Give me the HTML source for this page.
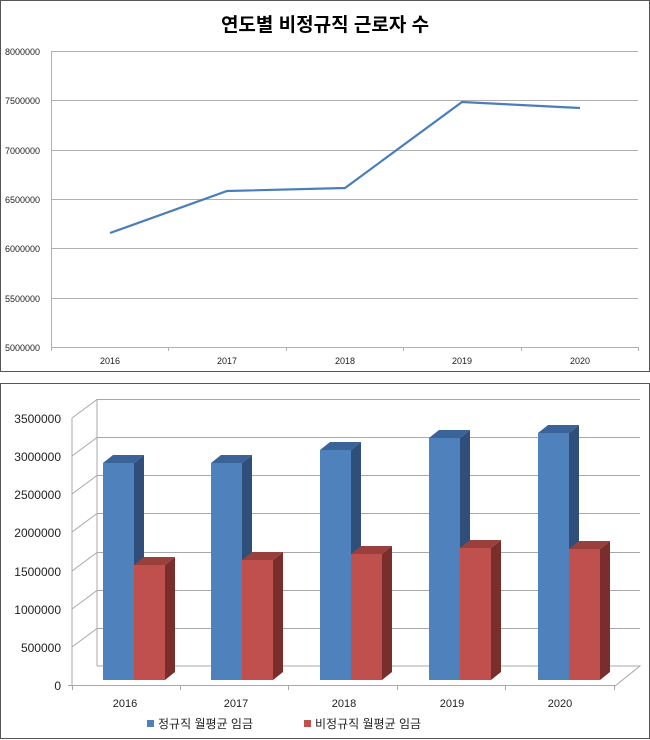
<!DOCTYPE html>
<html><head><meta charset="utf-8"><style>
body{margin:0;background:#fff;width:650px;height:740px;overflow:hidden}
svg{display:block;font-family:"Liberation Sans","Noto Sans CJK KR",sans-serif}
</style></head><body>
<svg width="650" height="740" viewBox="0 0 650 740">
<rect x="0.5" y="0.5" width="649" height="371" fill="#fff" stroke="#555"/>
<text x="325" y="31" text-anchor="middle" font-size="19" font-weight="bold" fill="#000">연도별 비정규직 근로자 수</text>
<g stroke="#b0b0b0" stroke-width="1">
<line x1="51" y1="51.5" x2="638" y2="51.5"/><line x1="51" y1="100.5" x2="638" y2="100.5"/>
<line x1="51" y1="150.5" x2="638" y2="150.5"/><line x1="51" y1="199.5" x2="638" y2="199.5"/>
<line x1="51" y1="248.5" x2="638" y2="248.5"/><line x1="51" y1="298.5" x2="638" y2="298.5"/>
<line x1="51" y1="347.5" x2="638" y2="347.5"/>
<line x1="51.5" y1="51" x2="51.5" y2="351"/>
<line x1="168.5" y1="347" x2="168.5" y2="351"/><line x1="286.5" y1="347" x2="286.5" y2="351"/>
<line x1="403.5" y1="347" x2="403.5" y2="351"/><line x1="521.5" y1="347" x2="521.5" y2="351"/>
<line x1="638.5" y1="347" x2="638.5" y2="351"/>
</g>
<g font-size="9" fill="#222">
<text x="5" y="55">8000000</text><text x="5" y="104">7500000</text><text x="5" y="154">7000000</text>
<text x="5" y="203">6500000</text><text x="5" y="252">6000000</text><text x="5" y="302">5500000</text>
<text x="5" y="351">5000000</text>
</g>
<g font-size="9" fill="#222" text-anchor="middle">
<text x="110" y="364">2016</text><text x="227" y="364">2017</text><text x="345" y="364">2018</text>
<text x="462" y="364">2019</text><text x="580" y="364">2020</text>
</g>
<polyline points="110,233 227,191 345,188 462,102 580,108" fill="none" stroke="#4a7ebb" stroke-width="2.2"/>

<rect x="0.5" y="383.5" width="649" height="355" fill="#fff" stroke="#555"/>
<g stroke="#a8a8a8" stroke-width="1" fill="none">
<line x1="97" y1="399" x2="97" y2="666"/>
<line x1="72" y1="418" x2="72" y2="685"/>
<line x1="72" y1="685.5" x2="615" y2="685.5"/>
<polyline points="615,686 640,666 97,666"/>
<polyline points="72,418 97,399.5 640,399.5"/>
<polyline points="72,494 97,475.5 640,475.5"/>
<polyline points="72,571 97,552.5 640,552.5"/>
<polyline points="72,647 97,628.5 640,628.5"/>
<polyline points="72,456 97,437.5 640,437.5"/>
<polyline points="72,532 97,513.5 640,513.5"/>
<polyline points="72,609 97,590.5 640,590.5"/>
<line x1="68" y1="685.5" x2="72" y2="685.5"/>
<line x1="180.5" y1="685" x2="180.5" y2="690"/><line x1="288.5" y1="685" x2="288.5" y2="690"/>
<line x1="397.5" y1="685" x2="397.5" y2="690"/><line x1="505.5" y1="685" x2="505.5" y2="690"/>
<line x1="614.5" y1="685" x2="614.5" y2="690"/><line x1="72.5" y1="685" x2="72.5" y2="690"/>
</g>
<g font-size="12" fill="#222" text-anchor="end">
<text x="61" y="423">3500000</text><text x="61" y="461">3000000</text><text x="61" y="499">2500000</text>
<text x="61" y="537">2000000</text><text x="61" y="576">1500000</text><text x="61" y="614">1000000</text>
<text x="61" y="652">500000</text><text x="61" y="690">0</text>
</g>
<g>
<!-- 2016 -->
<polygon points="134,463 144,455 144,672 134,680" fill="#2f4f7a"/><polygon points="103,463 113,455 144,455 134,463" fill="#3a639a"/><rect x="103" y="463" width="31" height="217" fill="#4f81bd"/>
<polygon points="165,565 175,557 175,672 165,680" fill="#7a2e2c"/><polygon points="134,565 144,557 175,557 165,565" fill="#99403d"/><rect x="134" y="565" width="31" height="115" fill="#c0504d"/>
<!-- 2017 -->
<polygon points="242,463 252,455 252,672 242,680" fill="#2f4f7a"/><polygon points="211,463 221,455 252,455 242,463" fill="#3a639a"/><rect x="211" y="463" width="31" height="217" fill="#4f81bd"/>
<polygon points="273,560 283,552 283,672 273,680" fill="#7a2e2c"/><polygon points="242,560 252,552 283,552 273,560" fill="#99403d"/><rect x="242" y="560" width="31" height="120" fill="#c0504d"/>
<!-- 2018 -->
<polygon points="351,450 361,442 361,672 351,680" fill="#2f4f7a"/><polygon points="320,450 330,442 361,442 351,450" fill="#3a639a"/><rect x="320" y="450" width="31" height="230" fill="#4f81bd"/>
<polygon points="382,554 392,546 392,672 382,680" fill="#7a2e2c"/><polygon points="351,554 361,546 392,546 382,554" fill="#99403d"/><rect x="351" y="554" width="31" height="126" fill="#c0504d"/>
<!-- 2019 -->
<polygon points="460,438 470,430 470,672 460,680" fill="#2f4f7a"/><polygon points="429,438 439,430 470,430 460,438" fill="#3a639a"/><rect x="429" y="438" width="31" height="242" fill="#4f81bd"/>
<polygon points="491,548 501,540 501,672 491,680" fill="#7a2e2c"/><polygon points="460,548 470,540 501,540 491,548" fill="#99403d"/><rect x="460" y="548" width="31" height="132" fill="#c0504d"/>
<!-- 2020 -->
<polygon points="569,433 579,425 579,672 569,680" fill="#2f4f7a"/><polygon points="538,433 548,425 579,425 569,433" fill="#3a639a"/><rect x="538" y="433" width="31" height="247" fill="#4f81bd"/>
<polygon points="600,549 610,541 610,672 600,680" fill="#7a2e2c"/><polygon points="569,549 579,541 610,541 600,549" fill="#99403d"/><rect x="569" y="549" width="31" height="131" fill="#c0504d"/>
</g>
<g font-size="11" fill="#222" text-anchor="middle">
<text x="125" y="707">2016</text><text x="236" y="707">2017</text><text x="344" y="707">2018</text>
<text x="452" y="707">2019</text><text x="560" y="707">2020</text>
</g>
<rect x="147" y="720" width="7" height="7" fill="#4f81bd"/>
<text x="158" y="728" font-size="12" fill="#222">정규직 월평균 임금</text>
<rect x="304" y="720" width="7" height="7" fill="#c0504d"/>
<text x="315" y="728" font-size="12" fill="#222">비정규직 월평균 임금</text>
</svg>
</body></html>
